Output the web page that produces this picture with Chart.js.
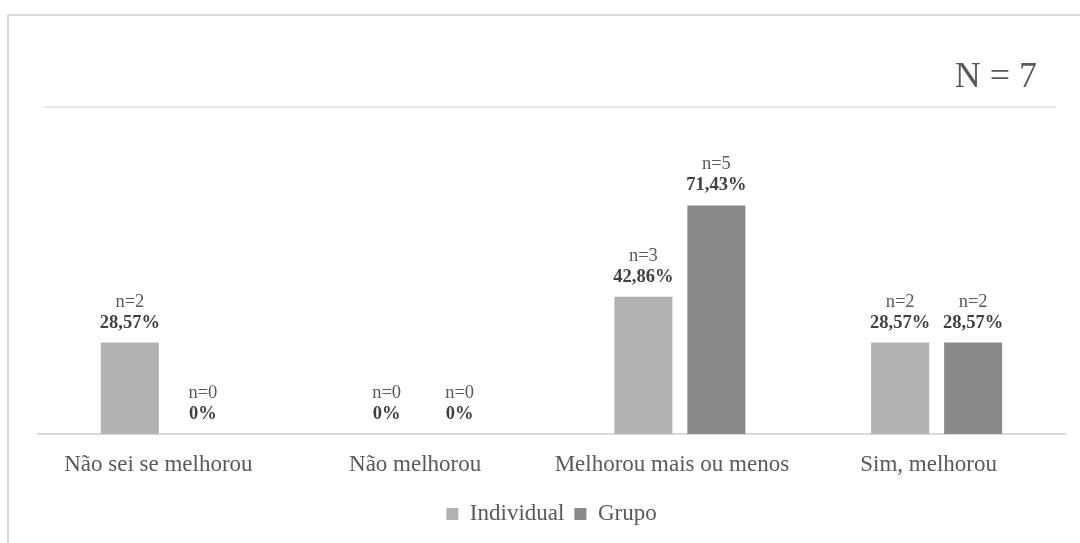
<!DOCTYPE html>
<html>
<head>
<meta charset="utf-8">
<script src="https://cdn.jsdelivr.net/npm/chart.js@4"></script>
<style>
  html, body { margin: 0; padding: 0; background: #fff; overflow: hidden; }
  #wrap { position: relative; width: 1080px; height: 543px; }
  #frame {
    position: absolute; left: 7px; top: 14px; width: 1200px; height: 700px;
    border: 2px solid #d9d9d9; box-sizing: border-box; pointer-events: none;
  }
  canvas { position: absolute; left: 0; top: 0; }
</style>
</head>
<body>
<div id="wrap">
  <div id="frame"></div>
  <canvas id="chart" width="1080" height="543"></canvas>
</div>
<script>
const categories = ['Não sei se melhorou', 'Não melhorou', 'Melhorou mais ou menos', 'Sim, melhorou'];
const individualN = [2, 0, 3, 2];
const grupoN = [0, 0, 5, 2];
const individualPct = [28.57, 0, 42.86, 28.57];
const grupoPct = [0, 0, 71.43, 28.57];
const totalLabel = 'N = 7';

const serif = '"Liberation Serif", "Times New Roman", serif';

function fmtPct(v) {
    return v === 0 ? '0%' : v.toFixed(2).replace('.', ',') + '%';
}

// n= and percentage written above every bar
const barLabels = {
    id: 'barLabels',
    afterDatasetsDraw(chart) {
        const ctx = chart.ctx;
        const counts = [individualN, grupoN];
        ctx.save();
        ctx.textAlign = 'center';
        ctx.textBaseline = 'alphabetic';
        chart.data.datasets.forEach((ds, di) => {
            chart.getDatasetMeta(di).data.forEach((bar, i) => {
                ctx.font = '18.5px ' + serif;
                ctx.fillStyle = '#595959';
                ctx.fillText('n=' + counts[di][i], bar.x, bar.y - 36);
                ctx.font = 'bold 18.5px ' + serif;
                ctx.fillStyle = '#404040';
                ctx.fillText(fmtPct(ds.data[i]), bar.x, bar.y - 15);
            });
        });
        ctx.restore();
    }
};

// total count in the corner with the rule underneath
const header = {
    id: 'header',
    afterDraw(chart) {
        const ctx = chart.ctx;
        ctx.save();
        ctx.strokeStyle = '#e3e3e3';
        ctx.lineWidth = 1.5;
        ctx.beginPath();
        ctx.moveTo(43, 107);
        ctx.lineTo(1056, 107);
        ctx.stroke();
        ctx.font = '36px ' + serif;
        ctx.fillStyle = '#595959';
        ctx.textAlign = 'right';
        ctx.textBaseline = 'alphabetic';
        ctx.fillText(totalLabel, 1037, 87);
        ctx.restore();
    }
};

const ctx = document.getElementById('chart').getContext('2d');
const chart = new Chart(ctx, {
    type: 'bar',
    data: {
        labels: categories,
        datasets: [{
            label: 'Individual',
            data: individualPct,
            backgroundColor: '#b2b2b2'
        }, {
            label: 'Grupo',
            data: grupoPct,
            backgroundColor: '#898989'
        }]
    },
    options: {
        responsive: false,
        animation: false,
        layout: {
            padding: { top: 114, left: 38, right: 15, bottom: 7.5 }
        },
        datasets: {
            bar: {
                categoryPercentage: 0.5687,
                barPercentage: 0.7945
            }
        },
        scales: {
            x: {
                grid: { display: true, drawOnChartArea: false, drawTicks: false },
                border: { display: true, color: '#d9d9d9', width: 2 },
                ticks: {
                    color: '#595959',
                    font: { family: serif, size: 23 },
                    padding: 17,
                    labelOffset: -8,
                    maxRotation: 0
                },
                afterFit(axis) { axis.height = 58.5; }
            },
            y: {
                display: false,
                min: 0,
                max: 100
            }
        },
        plugins: {
            legend: {
                position: 'bottom',
                labels: {
                    boxWidth: 12,
                    boxHeight: 12,
                    padding: 10,
                    color: '#595959',
                    font: { family: serif, size: 23 }
                }
            },
            tooltip: { enabled: false }
        }
    },
    plugins: [barLabels, header]
});
</script>
</body>
</html>
